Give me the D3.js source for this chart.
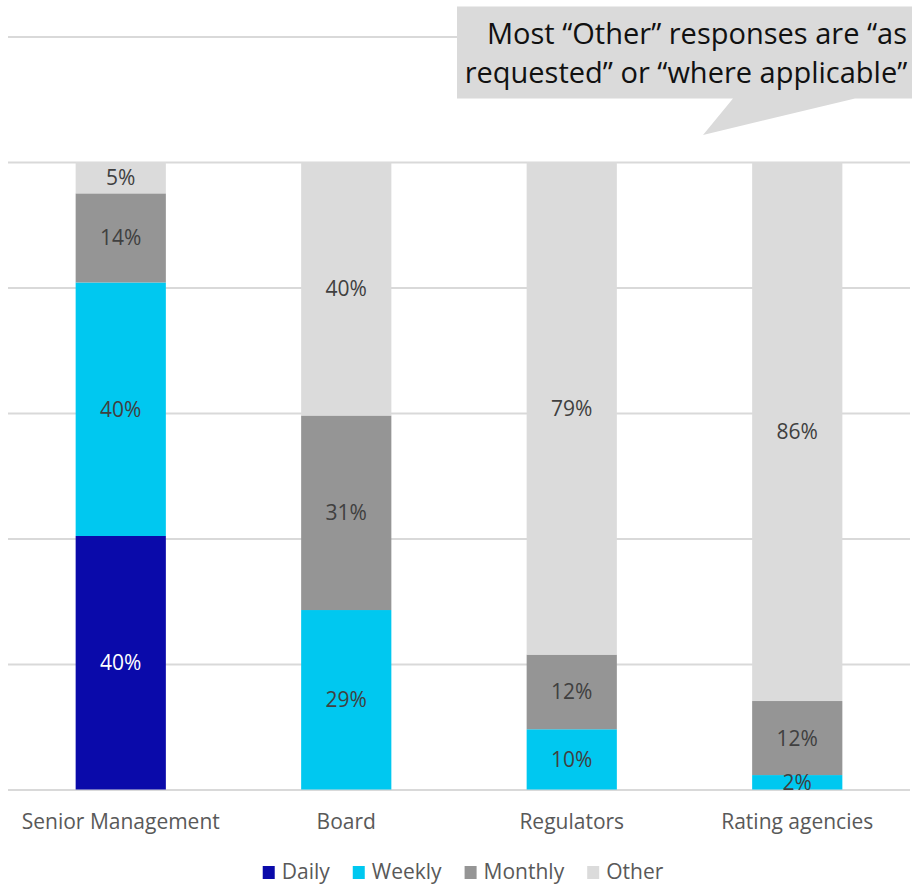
<!DOCTYPE html>
<html>
<head>
<meta charset="utf-8">
<script src="https://cdn.jsdelivr.net/npm/d3@7"></script>
<style>
  html, body { margin: 0; padding: 0; background: #ffffff; }
  svg { display: block; font-family: "Open Sans", Lato, sans-serif; }
</style>
</head>
<body>
<svg id="chart" width="912" height="885"></svg>
<script>
// Reporting frequency by audience (share of respondents, %)
const categories = ["Senior Management", "Board", "Regulators", "Rating agencies"];
const seriesNames = ["Daily", "Weekly", "Monthly", "Other"];
const daily   = [40.4, 0,    0,    0];
const weekly  = [40.4, 28.6, 9.6,  2.3];
const monthly = [14.2, 31.0, 11.9, 11.8];
const other   = [5.0,  40.4, 78.5, 85.9];
const gridTicks = [0, 20, 40, 60, 80, 100, 120];
const calloutLines = ["Most \u201cOther\u201d responses are \u201cas", "requested\u201d or \u201cwhere applicable\u201d"];

const colors = { Daily: "#0a0aaa", Weekly: "#00c8f0", Monthly: "#959595", Other: "#dbdbdb" };
const labelColors = { Daily: "#ffffff", Weekly: "#404040", Monthly: "#404040", Other: "#404040" };

const svg = d3.select("#chart");

const rows = categories.map((c, i) => ({
  category: c, Daily: daily[i], Weekly: weekly[i], Monthly: monthly[i], Other: other[i]
}));

const x = d3.scaleBand().domain(categories).range([8, 910]).paddingInner(0.6).paddingOuter(0.3);
const y = d3.scaleLinear().domain([0, 120]).range([789.5, 36.5]);

// horizontal gridlines
svg.append("g")
  .attr("transform", "translate(8,0)")
  .call(d3.axisLeft(y).tickValues(gridTicks).tickSize(-902).tickFormat(""))
  .call(g => g.select(".domain").remove())
  .call(g => g.selectAll(".tick line").attr("stroke", "#d9d9d9").attr("stroke-width", 2));

const stack = d3.stack().keys(seriesNames);
const layers = stack(rows);

svg.append("g").selectAll("g")
  .data(layers)
  .join("g")
  .attr("fill", d => colors[d.key])
  .selectAll("rect")
  .data(d => d.map(p => ({ key: d.key, p })))
  .join("rect")
  .attr("x", d => x(d.p.data.category))
  .attr("width", x.bandwidth())
  .attr("y", d => y(d.p[1]))
  .attr("height", d => y(d.p[0]) - y(d.p[1]));

// value labels centred in each segment
const fmt = v => Math.round(v) + "%";
svg.append("g").selectAll("g")
  .data(layers)
  .join("g")
  .selectAll("text")
  .data(d => d.map(p => ({ key: d.key, p })).filter(d => d.p[1] - d.p[0] > 0))
  .join("text")
  .attr("x", d => x(d.p.data.category) + x.bandwidth() / 2)
  .attr("y", d => (y(d.p[0]) + y(d.p[1])) / 2)
  .attr("dy", "0.36em")
  .attr("text-anchor", "middle")
  .attr("font-size", 21)
  .attr("fill", d => labelColors[d.key])
  .text(d => fmt(d.p[1] - d.p[0]));

// category axis
svg.append("g")
  .attr("transform", "translate(0,789.5)")
  .call(d3.axisBottom(x).tickSize(0).tickPadding(39))
  .call(g => g.select(".domain").remove())
  .call(g => g.selectAll("text")
    .attr("font-family", "'Open Sans', Lato, sans-serif")
    .attr("font-size", 21).attr("fill", "#595959").attr("dy", 0));

// legend
const legend = svg.append("g");
const items = legend.selectAll("g").data(seriesNames).join("g");
items.append("rect").attr("width", 12).attr("height", 13).attr("y", 866)
  .attr("fill", d => colors[d]);
items.append("text").attr("x", 19).attr("y", 879)
  .attr("font-size", 21).attr("fill", "#595959").text(d => d);
const widths = [];
items.each(function () { widths.push(19 + this.querySelector("text").getComputedTextLength()); });
const gap = 23;
const total = d3.sum(widths) + gap * (widths.length - 1);
let cx = 463 - total / 2;
items.attr("transform", (d, i) => {
  const t = `translate(${cx},0)`;
  cx += widths[i] + gap;
  return t;
});

// callout
const callout = svg.append("g");
callout.append("path")
  .attr("d", "M457,6.5 L912,6.5 L912,98.5 L855,98.5 L703,135 L733,98.5 L457,98.5 Z")
  .attr("fill", "#dadada");
callout.selectAll("text")
  .data(calloutLines)
  .join("text")
  .attr("x", (d, i) => i === 0 ? 697 : 686)
  .attr("y", (d, i) => 44.3 + i * 38.4)
  .attr("text-anchor", "middle")
  .attr("font-size", 29)
  .attr("fill", "#111111")
  .text(d => d);
</script>
</body>
</html>
